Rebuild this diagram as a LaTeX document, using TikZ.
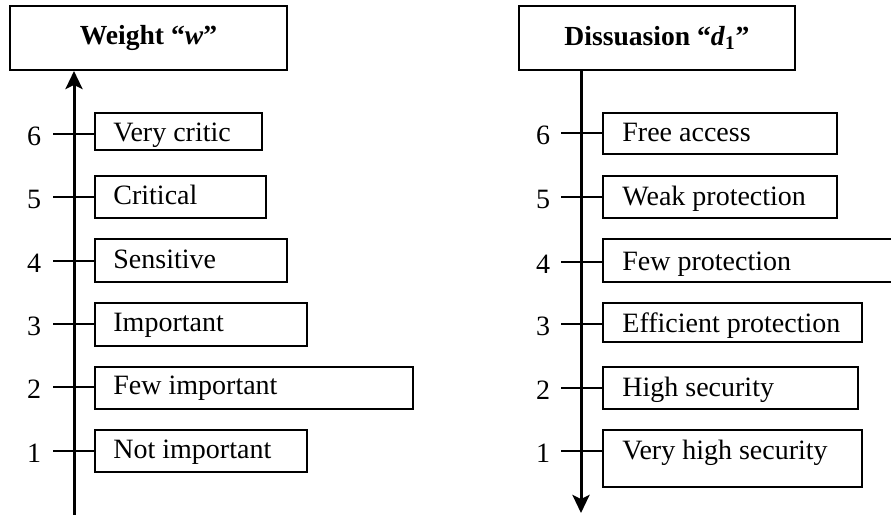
\documentclass[tikz,border=0pt]{standalone}
\usepackage{fontspec}
\setmainfont{Liberation Serif}
\usetikzlibrary{arrows.meta,fit}
\tikzset{
  headbox/.style={draw,line width=1pt,inner sep=0pt,font=\fontsize{13.8}{16}\selectfont\bfseries},
  valbox/.style={draw,line width=0.75pt,inner sep=0pt},
  valtext/.style={anchor=base west,inner sep=0pt,font=\fontsize{14}{16}\selectfont},
  numlbl/.style={inner sep=0pt,font=\fontsize{14}{16}\selectfont},
  tickline/.style={line width=0.75pt},
  axis/.style={line width=1.5pt,-{Stealth[length=9pt,width=8.5pt,inset=2pt]}}
}
\begin{document}
\begin{tikzpicture}[x=0.5pt,y=-0.5pt]
	\useasboundingbox (0,0) rectangle (891,515);
	\clip (0,0) rectangle (891,515);
	% weight scale
	\node[headbox,minimum width=138.5pt,minimum height=32pt] (hw) at (148.5,38) {Weight “\textit{w}”};
	\coordinate (aw) at (74,515);
	\draw[axis] (aw) -- (aw |- hw.south);
	\foreach \v/\top/\bot/\r/\ty/\txt in {6/113/150/262/134/Very critic,5/176/218/266/197/Critical,4/239/282/287/261/Sensitive,3/303/346/307/324/Important,2/367/409/413/387/Few important,1/430/472/307/451/Not important} {
		\node[valbox,fit={(95,\top) (\r,\bot)}] (bw\v) {};
		\node[valtext] (tw\v) at (113,\ty+7) {\txt};
		\node[numlbl] (nw\v) at (34,\ty+2) {\v};
		\coordinate (kw\v) at (53,\ty);
		\draw[tickline] (kw\v) -- (kw\v -| bw\v.west);
	}
	% dissuasion scale
	\node[headbox,minimum width=138pt,minimum height=32pt] (hd) at (657,38) {Dissuasion “\textit{d}\textsubscript{1}”};
	\coordinate (ad) at (581,513);
	\draw[axis] (ad |- hd.south) -- (ad);
	\foreach \v/\top/\bot/\r/\ty/\txt in {6/113/154/837/133/Free access,5/176/218/837/197/Weak protection,4/239/282/897/262/Few protection,3/303/342/862/324/Efficient protection,2/367/409/858/388/High security,1/430/487/862/451/Very high security} {
		\node[valbox,fit={(603,\top) (\r,\bot)}] (bd\v) {};
		\node[valtext] (td\v) at (622,\ty+8) {\txt};
		\node[numlbl] (nd\v) at (543,\ty+2) {\v};
		\coordinate (kd\v) at (561,\ty);
		\draw[tickline] (kd\v) -- (kd\v -| bd\v.west);
	}
\end{tikzpicture}
\end{document}
